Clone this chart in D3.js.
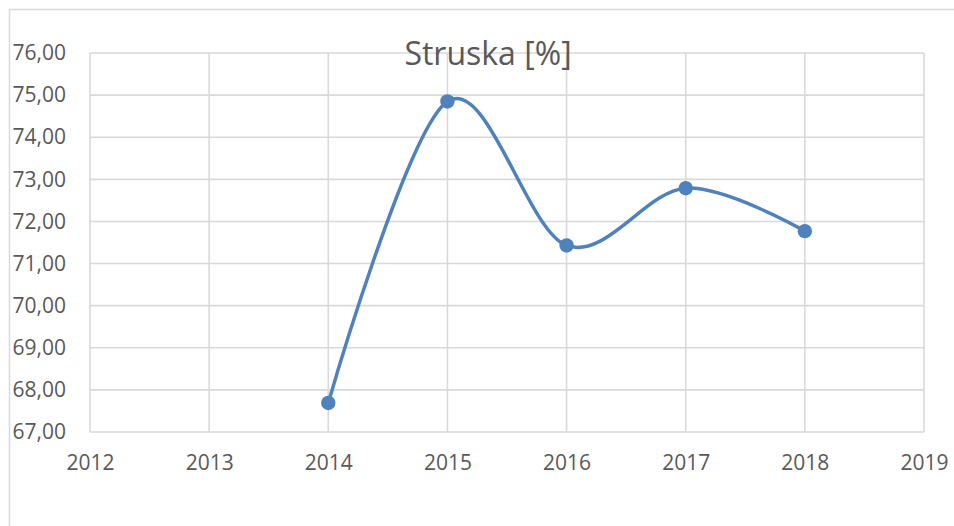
<!DOCTYPE html>
<html lang="sk">
<head>
<meta charset="utf-8">
<title>Struska [%]</title>
<script src="https://d3js.org/d3.v7.min.js"></script>
<style>
  html, body { margin: 0; padding: 0; background: #fff; }
  svg { display: block; font-family: "Open Sans", "Noto Sans", sans-serif; }
</style>
</head>
<body>
<div id="chart"></div>
<script>
// data
var years = [2014, 2015, 2016, 2017, 2018];
var values = [67.69, 74.85, 71.43, 72.79, 71.77];
var xTicks = [2012, 2013, 2014, 2015, 2016, 2017, 2018, 2019];
var yTicks = [67, 68, 69, 70, 71, 72, 73, 74, 75, 76];
var title = "Struska [%]";

var w = 954, h = 526;
var plot = { left: 90, top: 53, right: 924, bottom: 432 };

var svg = d3.select("#chart").append("svg")
  .attr("width", w)
  .attr("height", h);

// chart area border (runs off the right and bottom edge)
svg.append("rect")
  .attr("x", 9.5).attr("y", 9.5)
  .attr("width", w + 20).attr("height", h + 20)
  .attr("fill", "none")
  .attr("stroke", "#d9d9d9")
  .attr("stroke-width", 1.5);

var x = d3.scaleLinear().domain([2012, 2019]).range([plot.left, plot.right]);
var y = d3.scaleLinear().domain([67, 76]).range([plot.bottom, plot.top]);

// gridlines
svg.append("g")
  .selectAll("line.h")
  .data(yTicks)
  .enter().append("line")
  .attr("x1", plot.left).attr("x2", plot.right)
  .attr("y1", function(d) { return y(d); })
  .attr("y2", function(d) { return y(d); })
  .attr("stroke", "#d9d9d9")
  .attr("stroke-width", 1.6);

svg.append("g")
  .selectAll("line.v")
  .data(xTicks)
  .enter().append("line")
  .attr("y1", plot.top).attr("y2", plot.bottom)
  .attr("x1", function(d) { return x(d); })
  .attr("x2", function(d) { return x(d); })
  .attr("stroke", "#d9d9d9")
  .attr("stroke-width", 1.6);

// axes (only labels, lines are the grid)
var yAxis = d3.axisLeft(y)
  .tickValues(yTicks)
  .tickSize(0)
  .tickPadding(24)
  .tickFormat(function(d) { return d3.format(".2f")(d).replace(".", ","); });

svg.append("g")
  .attr("transform", "translate(" + plot.left + ",0)")
  .call(yAxis)
  .call(function(g) { g.select(".domain").remove(); })
  .selectAll("text")
  .attr("font-family", "Open Sans, sans-serif")
  .attr("font-size", 21)
  .attr("fill", "#595959");

var xAxis = d3.axisBottom(x)
  .tickValues(xTicks)
  .tickSize(0)
  .tickPadding(23)
  .tickFormat(d3.format("d"));

svg.append("g")
  .attr("transform", "translate(0," + plot.bottom + ")")
  .call(xAxis)
  .call(function(g) { g.select(".domain").remove(); })
  .selectAll("text")
  .attr("font-family", "Open Sans, sans-serif")
  .attr("font-size", 21)
  .attr("fill", "#595959");

// title
svg.append("text")
  .attr("x", 488)
  .attr("y", 65)
  .attr("text-anchor", "middle")
  .attr("font-size", 32)
  .attr("fill", "#595959")
  .text(title);

// smoothed series line
var pts = years.map(function(d, i) { return [d, values[i]]; });

var line = d3.line()
  .x(function(d) { return x(d[0]); })
  .y(function(d) { return y(d[1]); })
  .curve(d3.curveCatmullRom.alpha(0));

svg.append("path")
  .datum(pts)
  .attr("d", line)
  .attr("fill", "none")
  .attr("stroke", "#4f81bd")
  .attr("stroke-width", 3.5)
  .attr("stroke-linecap", "round");

svg.append("g")
  .selectAll("circle")
  .data(pts)
  .enter().append("circle")
  .attr("cx", function(d) { return x(d[0]); })
  .attr("cy", function(d) { return y(d[1]); })
  .attr("r", 7.2)
  .attr("fill", "#4f81bd");
</script>
</body>
</html>
